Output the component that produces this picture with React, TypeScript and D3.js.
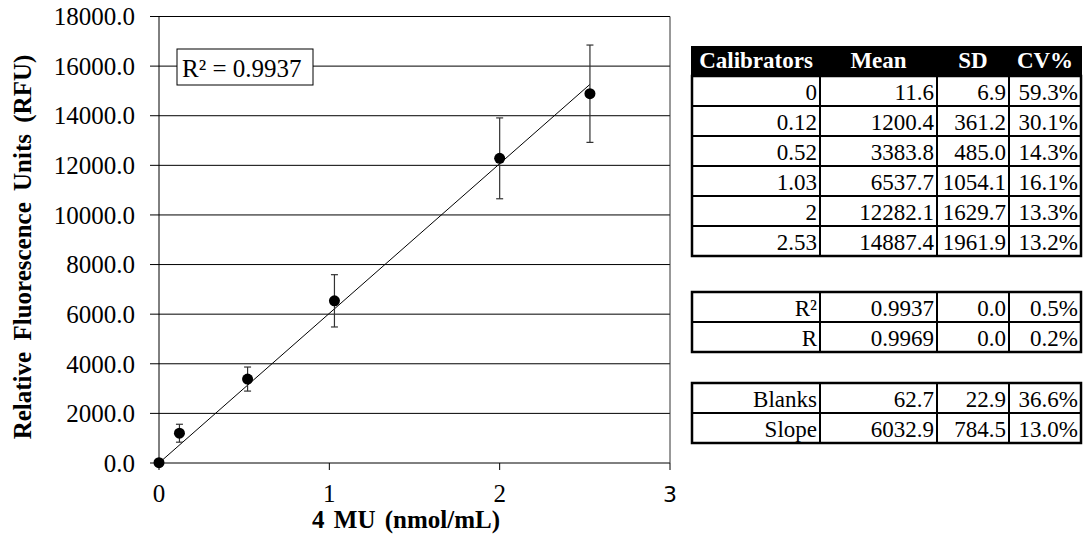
import React from 'react';
import * as d3 from 'd3';

// calibrator curve data
const calibrators = [0, 0.12, 0.52, 1.03, 2, 2.53];
const means = [11.6, 1200.4, 3383.8, 6537.7, 12282.1, 14887.4];
const sds = [6.9, 361.2, 485.0, 1054.1, 1629.7, 1961.9];
const cvs = [59.3, 30.1, 14.3, 16.1, 13.3, 13.2];

const fitLabels = ['R²', 'R'];
const fitMeans = ['0.9937', '0.9969'];
const fitSds = [0.0, 0.0];
const fitCvs = [0.5, 0.2];

const otherLabels = ['Blanks', 'Slope'];
const otherMeans = [62.7, 6032.9];
const otherSds = [22.9, 784.5];
const otherCvs = [36.6, 13.0];

const headers = ['Calibrators', 'Mean', 'SD', 'CV%'];
const slope = 6032.9; // trend line forced through origin
const rSquared = '0.9937';

const yTicks = d3.range(0, 18001, 2000);
const xTicks = [0, 1, 2, 3];

const W = 1086;
const H = 550;
const FONT = '"Liberation Serif", "Times New Roman", serif';

const fmt1 = d3.format('.1f');

const App = () => {
    const x = d3.scaleLinear().domain([0, 3]).range([159, 670]);
    const y = d3.scaleLinear().domain([0, 18000]).range([463, 16.5]);
    const [x0, x1] = x.range();
    const [yb, yt] = y.range();

    const pts = calibrators.map((c, i) => ({ c, m: means[i], sd: sds[i] }));
    const trend = d3.line<number>().x(d => x(d)).y(d => y(d * slope));
    const trendPath = trend([0, d3.max(calibrators) as number]);

    // table geometry
    const cols = [692, 820, 937, 1009, 1081];
    const rowH = 30;

    const renderBlock = (top: number, rows: string[][], key: string) => (
        <g key={key}>
            {rows.map((r, ri) =>
                r.map((cell, ci) => (
                    <text key={`${ri}-${ci}`} x={cols[ci + 1] - 3} y={top + rowH * (ri + 1) - 6}
                        textAnchor="end" fontSize={23} fontFamily={FONT} fill="#000">{cell}</text>
                ))
            )}
            {d3.range(1, rows.length).map(i => (
                <line key={`h${i}`} x1={cols[0]} x2={cols[4]} y1={top + rowH * i} y2={top + rowH * i}
                    stroke="#000" strokeWidth={2} />
            ))}
            {cols.slice(1, 4).map((cx, i) => (
                <line key={`v${i}`} x1={cx} x2={cx} y1={top} y2={top + rowH * rows.length}
                    stroke="#000" strokeWidth={2} />
            ))}
            <rect x={cols[0]} y={top} width={cols[4] - cols[0]} height={rowH * rows.length}
                fill="none" stroke="#000" strokeWidth={2.5} />
        </g>
    );

    const calRows = calibrators.map((c, i) => [String(c), fmt1(means[i]), fmt1(sds[i]), fmt1(cvs[i]) + '%']);
    const fitRows = fitLabels.map((l, i) => [l, fitMeans[i], fmt1(fitSds[i]), fmt1(fitCvs[i]) + '%']);
    const otherRows = otherLabels.map((l, i) => [l, fmt1(otherMeans[i]), fmt1(otherSds[i]), fmt1(otherCvs[i]) + '%']);

    const headTop = 46;
    const calTop = 76;

    return (
        <svg width={W} height={H} style={{ position: 'absolute', left: 0, top: 0, background: '#fff' }}>
            <rect width={W} height={H} fill="#fff" />

            {/* grid lines + y ticks */}
            {yTicks.map(t => (
                <g key={t}>
                    <line x1={x0 - 9} x2={x1} y1={y(t)} y2={y(t)} stroke="#000" strokeWidth={1} />
                    <text x={135} y={y(t)} dy="0.35em" textAnchor="end" fontSize={25} fontFamily={FONT}>
                        {fmt1(t)}
                    </text>
                </g>
            ))}

            {/* axes and frame */}
            <line x1={x0} x2={x0} y1={yt} y2={yb} stroke="#000" strokeWidth={1} />
            <line x1={x1} x2={x1} y1={yt} y2={yb} stroke="#333" strokeWidth={1} />
            {xTicks.map(t => (
                <g key={t}>
                    <line x1={x(t)} x2={x(t)} y1={yb} y2={yb + 7} stroke="#000" strokeWidth={1} />
                    <text x={x(t)} y={502} textAnchor="middle"
                        fontSize={t === 3 ? 22 : 25}
                        fontFamily={t === 3 ? '"DejaVu Sans", sans-serif' : FONT}>{t}</text>
                </g>
            ))}

            {/* trend line */}
            <path d={trendPath || ''} fill="none" stroke="#000" strokeWidth={1} />

            {/* error bars and points */}
            {pts.map(p => (
                <g key={p.c} stroke="#333" strokeWidth={1.2}>
                    <line x1={x(p.c)} x2={x(p.c)} y1={y(p.m - p.sd)} y2={y(p.m + p.sd)} />
                    <line x1={x(p.c) - 3.5} x2={x(p.c) + 3.5} y1={y(p.m - p.sd)} y2={y(p.m - p.sd)} />
                    <line x1={x(p.c) - 3.5} x2={x(p.c) + 3.5} y1={y(p.m + p.sd)} y2={y(p.m + p.sd)} />
                </g>
            ))}
            {pts.map(p => (
                <circle key={`c${p.c}`} cx={x(p.c)} cy={y(p.m)} r={5.5} fill="#000" />
            ))}

            {/* R² label */}
            <rect x={177} y={49} width={136} height={36} fill="#fff" stroke="#000" strokeWidth={1} />
            <text x={182} y={77} fontSize={25} fontFamily={FONT}>R² = {rSquared}</text>

            {/* axis titles */}
            <text transform="translate(22,247) rotate(-90)" textAnchor="middle" dy="0.35em"
                fontSize={25} fontWeight="bold" fontFamily={FONT} wordSpacing={5}>
                Relative Fluorescence Units (RFU)
            </text>
            <text x={406} y={528} textAnchor="middle" fontSize={25} fontWeight="bold" fontFamily={FONT}
                wordSpacing={3}>
                4 MU (nmol/mL)
            </text>

            {/* table header */}
            <rect x={cols[0] - 1} y={headTop} width={cols[4] - cols[0] + 2} height={calTop - headTop} fill="#000" />
            {headers.map((h, i) => (
                <text key={h} x={(cols[i] + cols[i + 1]) / 2} y={calTop - 8} textAnchor="middle"
                    fontSize={23} fontWeight="bold" fontFamily={FONT} fill="#fff">{h}</text>
            ))}

            {renderBlock(calTop, calRows, 'cal')}
            {renderBlock(292, fitRows, 'fit')}
            {renderBlock(383, otherRows, 'other')}
        </svg>
    );
};

export default App;
